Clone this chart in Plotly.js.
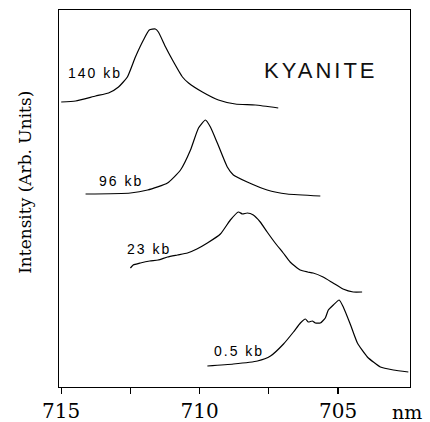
<!DOCTYPE html>
<html>
<head>
<meta charset="utf-8">
<script src="https://cdn.plot.ly/plotly-3.0.1.min.js"></script>
<style>html,body{margin:0;padding:0;background:#fff;}#chart{width:430px;height:422px;}</style>
</head>
<body>
<div id="chart"></div>
<script>
// Wavelength (nm) and intensity (arb. units, vertically offset) for each pressure
const wl140 = [715.0, 714.48, 713.76, 713.29, 712.93, 712.61, 712.32, 712.03, 711.82, 711.60, 711.49, 711.23, 710.98, 710.62, 710.40, 709.90, 709.32, 708.71, 707.99, 707.16];
const int140 = [285, 286, 291, 294, 300, 310, 330, 347, 357, 358, 355, 340, 327, 310, 304, 295, 287, 283, 282, 279];

const wl96 = [714.12, 712.50, 711.88, 711.16, 710.69, 710.33, 710.04, 709.79, 709.61, 709.36, 709.00, 708.78, 708.28, 707.56, 706.84, 705.64];
const int96 = [193, 194, 197, 204, 217, 237, 259, 267, 260, 244, 220, 212, 205, 197, 193, 191];

const wl23 = [712.50, 712.40, 712.14, 711.80, 711.50, 711.16, 710.80, 710.44, 710.10, 709.72, 709.25, 708.89, 708.60, 708.45, 708.28, 708.06, 707.81, 707.56, 707.27, 706.98, 706.73, 706.37, 706.10, 705.90, 705.54, 705.18, 704.82, 704.45, 704.13];
const int23 = [119, 122, 124, 126, 127, 130, 132, 134, 138, 144, 153, 167, 175, 173, 174, 172, 165, 155, 144, 134, 125, 117, 115, 114, 110, 104, 98, 95, 95];

const wl05 = [709.72, 708.78, 707.91, 707.44, 706.97, 706.61, 706.36, 706.18, 706.07, 705.93, 705.82, 705.64, 705.46, 705.35, 705.17, 704.96, 704.81, 704.56, 704.30, 703.94, 703.47, 703.00, 702.46];
const int05 = [21, 23, 26, 31, 43, 55, 64, 68, 65, 66, 64, 64, 69, 77, 82, 87, 80, 63, 44, 30, 20, 17, 15];

const seriesNames = ['140 kb', '96 kb', '23 kb', '0.5 kb'];
const labelX = [714.84, 713.70, 712.71, 709.55];
const labelY = [314, 206, 138, 36];

const tickVals = [715, 712.5, 710, 707.5, 705];
const tickText = ['715', '', '710', '', '705'];

const wls = [wl140, wl96, wl23, wl05];
const ints = [int140, int96, int23, int05];

const traces = wls.map((w, i) => ({
  x: w, y: ints[i], type: 'scatter', mode: 'lines', name: seriesNames[i],
  line: {color: '#000', width: 1.2, shape: 'spline', smoothing: 0.5},
  showlegend: false, hoverinfo: 'skip'
}));

const annotations = seriesNames.map((s, i) => ({
  x: labelX[i], y: labelY[i], xref: 'x', yref: 'y', xanchor: 'left', yanchor: 'middle',
  text: '<span style="letter-spacing:2px">' + s + '</span>', showarrow: false,
  font: {family: 'Liberation Sans, Arial, sans-serif', size: 14, color: '#000'}
}));
annotations.push({
  x: 707.74, y: 317, xref: 'x', yref: 'y', xanchor: 'left', yanchor: 'middle',
  text: '<span style="letter-spacing:3px">KYANITE</span>', showarrow: false,
  font: {family: 'Liberation Sans, Arial, sans-serif', size: 22, color: '#111'}
});
annotations.push({
  x: 1.0, y: 0, xref: 'paper', yref: 'paper', xanchor: 'right', yanchor: 'middle',
  xshift: 13, yshift: -25, borderpad: 0,
  text: 'nm', showarrow: false,
  font: {family: 'DejaVu Serif, serif', size: 19, color: '#000'}
});
annotations.push({
  x: -0.097, y: 0.544, xref: 'paper', yref: 'paper', xanchor: 'center', yanchor: 'middle',
  text: 'Intensity (Arb. Units)', textangle: -90, showarrow: false,
  font: {family: 'DejaVu Serif, serif', size: 17, color: '#000'}
});

const layout = {
  width: 430, height: 422,
  margin: {l: 59, r: 20, t: 10, b: 35, pad: 0},
  paper_bgcolor: '#fff', plot_bgcolor: '#fff',
  showlegend: false,
  xaxis: {
    range: [715.08, 702.4], showgrid: false, zeroline: false,
    showline: true, mirror: true, linecolor: '#000', linewidth: 1.4,
    ticks: 'outside', ticklen: 6, tickwidth: 1.3, tickcolor: '#000',
    tickvals: tickVals, ticktext: tickText, ticklabelstandoff: 0,
    tickfont: {family: 'DejaVu Serif, serif', size: 20, color: '#000'}
  },
  yaxis: {
    range: [0, 377], showgrid: false, zeroline: false,
    showline: true, mirror: true, linecolor: '#000', linewidth: 1.4,
    ticks: '', showticklabels: false
  },
  annotations: annotations
};

Plotly.newPlot('chart', traces, layout, {staticPlot: true, displayModeBar: false});
</script>
</body>
</html>
